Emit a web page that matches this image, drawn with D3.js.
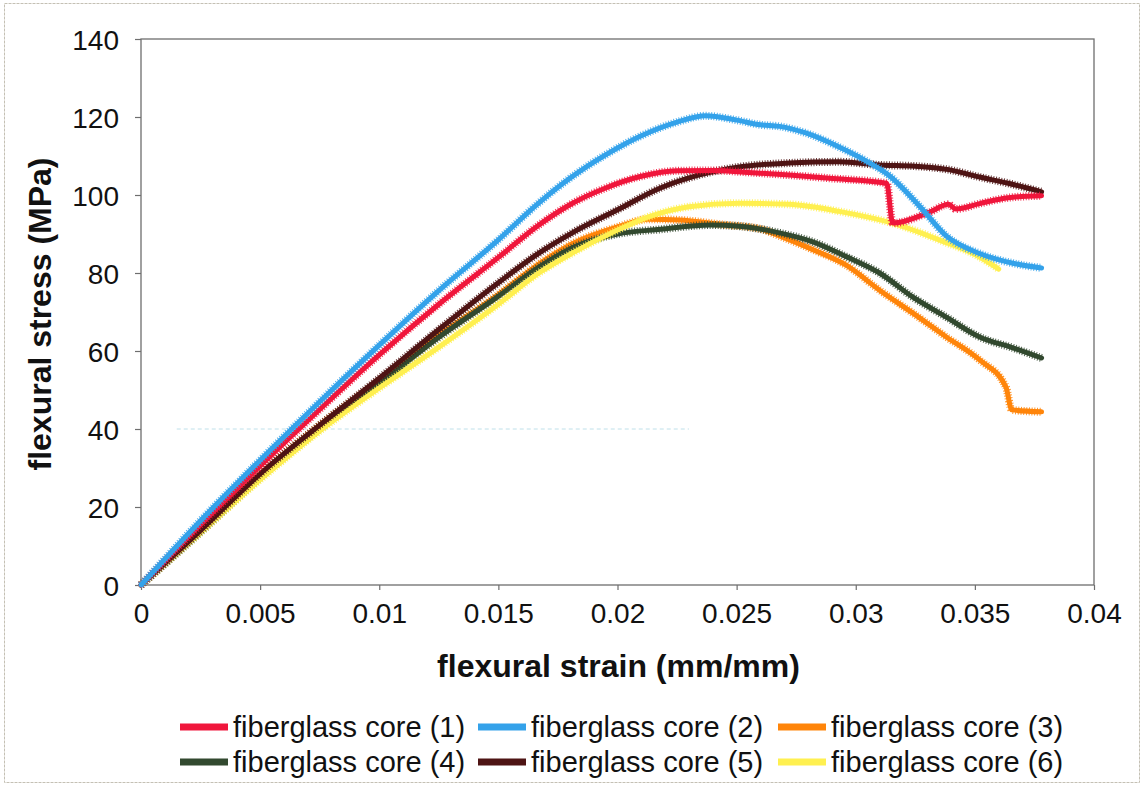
<!DOCTYPE html>
<html>
<head>
<meta charset="utf-8">
<script src="https://cdn.jsdelivr.net/npm/d3@7"></script>
<style>
  html, body { margin: 0; padding: 0; background: #fff; }
  svg { display: block; font-family: "Liberation Sans", Arial, Helvetica, sans-serif; }
</style>
</head>
<body>
<svg id="chart" width="1143" height="786"></svg>
<script>
// Flexural stress–strain curves, six fiberglass core specimens
const seriesNames = [
  "fiberglass core (1)", "fiberglass core (2)", "fiberglass core (3)",
  "fiberglass core (4)", "fiberglass core (5)", "fiberglass core (6)"
];
const seriesColors = ["#f0163c", "#34a2ea", "#ff850a", "#32492f", "#4e1414", "#fff050"];

// [strain (mm/mm), stress (MPa)]
const core1 = [[0,0],[0.0025,15.5],[0.005,30.5],[0.0075,45],[0.01,59],[0.0125,72],[0.015,84],
  [0.0167,92.3],[0.018,97.5],[0.0195,101.8],[0.021,104.8],[0.0225,106.2],[0.024,106.3],
  [0.0255,105.8],[0.0272,105.1],[0.0289,104.3],[0.0313,103],[0.03155,92.8],[0.0331,95.6],
  [0.0339,97.6],[0.0342,96.4],[0.0352,97.8],[0.0364,99.3],[0.0378,99.8]];
const core2 = [[0,0],[0.0025,16.5],[0.005,32],[0.0075,47],[0.01,61.5],[0.0125,75.5],[0.015,88.5],
  [0.0167,98],[0.018,104.3],[0.0195,110.3],[0.021,115.2],[0.0225,118.7],[0.0237,120.3],
  [0.025,119.2],[0.026,118],[0.0268,117.6],[0.0279,115.9],[0.0293,112.3],[0.0305,108.5],
  [0.0314,105],[0.0327,97],[0.0338,89.5],[0.0352,85],[0.0366,82.5],[0.0378,81.3]];
const core3 = [[0,0],[0.0025,14.5],[0.005,28.5],[0.0075,41],[0.01,52.5],[0.0125,64],[0.015,74.5],
  [0.0167,82.3],[0.0181,87.5],[0.02,91.8],[0.0213,93.8],[0.0226,93.6],[0.0243,92.5],
  [0.026,91.3],[0.0268,89.5],[0.0282,86],[0.0296,82],[0.031,75.6],[0.0324,69.7],
  [0.0338,63.6],[0.0352,57.7],[0.0363,50.8],[0.03655,44.9],[0.0378,44.4]];
const core4 = [[0,0],[0.0025,13.5],[0.005,27.5],[0.0075,40],[0.01,51.5],[0.0125,63.5],[0.015,74],
  [0.0167,81.5],[0.0181,86.5],[0.02,90],[0.0218,91.2],[0.0239,92.3],[0.0251,92],
  [0.0268,90.3],[0.0282,88],[0.0296,84.2],[0.031,80],[0.0324,73.8],[0.0338,68.7],
  [0.0352,63.6],[0.0366,60.8],[0.0378,58.2]];
const core5 = [[0,0],[0.0025,14],[0.005,28.5],[0.0075,41],[0.01,53],[0.0125,65.5],[0.015,77.5],
  [0.0167,85.1],[0.0181,90.3],[0.02,96.2],[0.0218,101.8],[0.0234,105.1],[0.0251,107.2],
  [0.0272,108.2],[0.0293,108.5],[0.031,107.7],[0.0325,107.4],[0.0339,106.5],
  [0.0352,104.6],[0.0364,103],[0.0378,100.8]];
const core6 = [[0,0],[0.0025,13.5],[0.005,27],[0.0075,39.5],[0.01,50.5],[0.0125,61],[0.015,72],
  [0.0167,80],[0.0181,85.1],[0.02,91],[0.0213,94.4],[0.023,97],[0.0251,97.9],
  [0.0272,97.6],[0.0293,95.8],[0.0318,92.3],[0.0335,88.5],[0.0352,84.1],[0.036,81]];

const allSeries = [core1, core2, core3, core4, core5, core6];
const xTicks = [0, 0.005, 0.01, 0.015, 0.02, 0.025, 0.03, 0.035, 0.04];
const yTicks = [0, 20, 40, 60, 80, 100, 120, 140];

const svg = d3.select("#chart");
const W = 1143, H = 786;
const plot = { x0: 141, x1: 1094, y0: 39, y1: 585 };

// outer page frame
svg.append("rect")
  .attr("x", 4.5).attr("y", 3.5).attr("width", W - 8).attr("height", H - 7)
  .attr("fill", "none").attr("stroke", "#c4c0b4").attr("stroke-width", 1)
  .attr("stroke-dasharray", "3,1");

const x = d3.scaleLinear().domain([0, 0.04]).range([plot.x0, plot.x1]);
const y = d3.scaleLinear().domain([0, 140]).range([plot.y1, plot.y0]);

// faint reference line at 40 MPa
svg.append("line")
  .attr("x1", x(0.0015)).attr("x2", x(0.023))
  .attr("y1", y(40)).attr("y2", y(40))
  .attr("stroke", "#bfe0ea").attr("stroke-width", 1).attr("stroke-dasharray", "4,3");

// plot frame
svg.append("rect")
  .attr("x", plot.x0).attr("y", plot.y0)
  .attr("width", plot.x1 - plot.x0).attr("height", plot.y1 - plot.y0)
  .attr("fill", "none").attr("stroke", "#6e6e6e").attr("stroke-width", 1.3);

// axes
const xAxis = svg.append("g")
  .attr("transform", `translate(0,${plot.y1})`)
  .call(d3.axisBottom(x).tickValues(xTicks).tickSize(5).tickPadding(13)
    .tickFormat(d => d === 0 ? "0" : String(+d.toFixed(3))));
const yAxis = svg.append("g")
  .attr("transform", `translate(${plot.x0},0)`)
  .call(d3.axisLeft(y).tickValues(yTicks).tickSize(6).tickPadding(16));

[xAxis, yAxis].forEach(g => {
  g.select(".domain").remove();
  g.selectAll(".tick line").attr("stroke", "#6e6e6e").attr("stroke-width", 1.2);
  g.selectAll(".tick text").attr("fill", "#111").style("font-size", "28px");
});
xAxis.selectAll(".tick text").attr("dy", "0.72em");
yAxis.selectAll(".tick text").attr("dy", "0.36em");

// axis titles
svg.append("text")
  .attr("x", (plot.x0 + plot.x1) / 2 + 1).attr("y", 677)
  .attr("text-anchor", "middle")
  .style("font-size", "32px").style("font-weight", "bold").attr("fill", "#111")
  .text("flexural strain (mm/mm)");
svg.append("text")
  .attr("transform", `translate(51,${(plot.y0 + plot.y1) / 2 + 2}) rotate(-90)`)
  .attr("text-anchor", "middle")
  .style("font-size", "32px").style("font-weight", "bold").attr("fill", "#111")
  .text("flexural stress (MPa)");

// curves
const line = d3.line()
  .x(d => x(d[0])).y(d => y(d[1]))
  .curve(d3.curveMonotoneX);

const curves = svg.append("g");
const drawOrder = [2, 3, 5, 4, 0, 1];
drawOrder.forEach(i => {
  const g = curves.append("g");
  g.append("path")
    .attr("d", line(allSeries[i]))
    .attr("fill", "none").attr("stroke", seriesColors[i])
    .attr("stroke-width", 5).attr("stroke-linejoin", "round").attr("stroke-linecap", "round");
  // fibrous edge texture
  g.append("path")
    .attr("d", line(allSeries[i]))
    .attr("fill", "none").attr("stroke", seriesColors[i])
    .attr("stroke-width", 8).attr("stroke-dasharray", "1,1.7").attr("opacity", 0.85);
});

// legend
const legendCols = [180, 478, 778];
const legendRows = [727, 762];
seriesNames.forEach((name, i) => {
  const lx = legendCols[i % 3], ly = legendRows[Math.floor(i / 3)];
  const g = svg.append("g").attr("transform", `translate(${lx},${ly})`);
  g.append("line")
    .attr("x1", 0).attr("x2", 48).attr("y1", 0).attr("y2", 0)
    .attr("stroke", seriesColors[i]).attr("stroke-width", 7);
  g.append("text")
    .attr("x", 53).attr("y", 0).attr("dy", "0.36em")
    .style("font-size", "29px").attr("fill", "#111")
    .text(name);
});
</script>
</body>
</html>
